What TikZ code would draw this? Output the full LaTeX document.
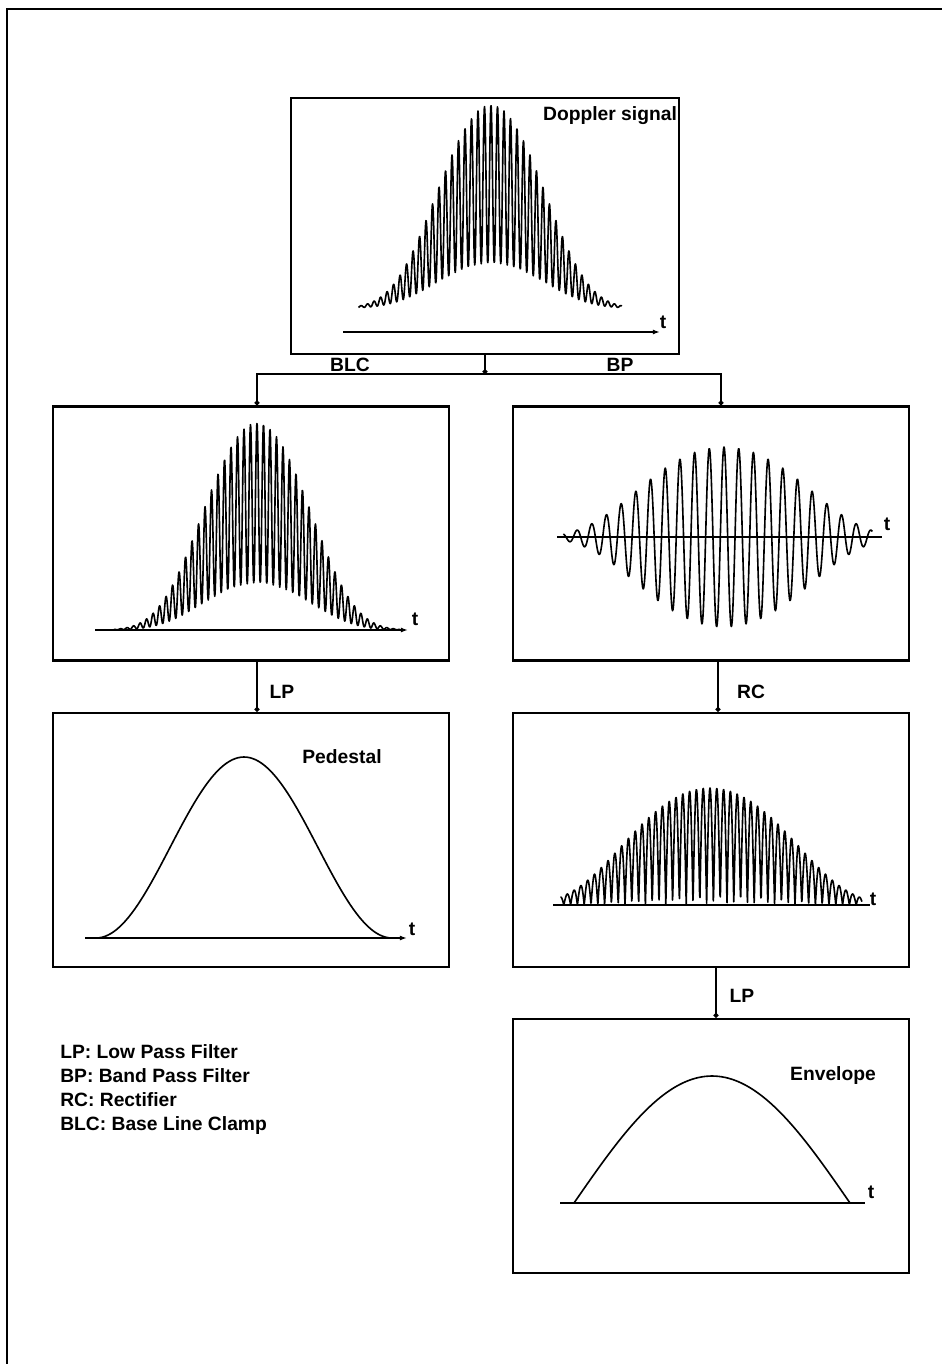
\documentclass[tikz,border=0pt]{standalone}
\usepackage{fontspec}
\setmainfont{Liberation Sans}
\usepackage{tikz}
\usetikzlibrary{shapes,arrows.meta,positioning,calc}

\begin{document}
\begin{tikzpicture}[x=0.025cm, y=-0.025cm,
    panel/.style={draw, line width=1.7pt, minimum width=9.9cm, minimum height=6.35cm, inner sep=0pt},
    link/.style={line width=1.1pt, -{Circle[length=3.5pt]}},
    signal/.style={line width=1.15pt, line join=round},
    axis/.style={line width=1.2pt},
    tip/.style={-{Latex[length=5pt,width=3.5pt]}},
    lbl/.style={font=\bfseries\fontsize{13.7}{16}\selectfont, inner sep=0pt, anchor=base}]
    \useasboundingbox (0,0) rectangle (942,1364);

    % Outer frame
    \draw[line width=1.5pt] (942,9) -- (7,9) -- (7,1364);

    % Panels
    \node[panel, minimum width=9.7cm, minimum height=6.4cm] (doppler) at (485,226) {};
    \node[panel] (blc) at (251,533.5) {};
    \node[panel] (bp) at (711,533.5) {};
    \node[panel] (pedestal) at (251,840) {};
    \node[panel] (rc) at (711,840) {};
    \node[panel] (envelope) at (711,1146) {};

    % Connectors
    \coordinate (split) at (485,374);
    \draw[link] (doppler.south) -- (split);
    \draw[link] (split) -| ([xshift=0.15cm]blc.north);
    \draw[link] (split) -| ([xshift=0.25cm]bp.north);
    \draw[link] ([xshift=0.15cm]blc.south) -- ([xshift=0.15cm]pedestal.north);
    \draw[link] ([xshift=0.175cm]bp.south) -- ([xshift=0.175cm]rc.north);
    \draw[link] ([xshift=0.125cm]rc.south) -- ([xshift=0.125cm]envelope.north);

    \node[lbl] (lblc) at (350,371) {BLC};
    \node[lbl] (lbp) at (620,371) {BP};
    \node[lbl] (llp) at (282,698) {LP};
    \node[lbl] (lrc) at (751,698) {RC};
    \node[lbl] (llp2) at (742,1002) {LP};

    % Doppler signal
    \draw[axis, tip] (343,332) -- (660,332);
    \draw[signal] plot[domain=-2.5:2.47, samples=801]
        ({491+53*\x}, {308-exp(-0.5*(\x)^2-0.04*(\x)^4)*(124+79*cos(\x*53/6.5*360))});
    \node[lbl] (tdop) at (663,328) {t};
    \node[lbl] (ndop) at (610,120) {Doppler signal};

    % After base line clamp
    \draw[axis, tip] (95,630) -- (408,630);
    \draw[signal] plot[domain=-2.7:2.7, samples=801]
        ({257+53*\x}, {630-exp(-0.5*(\x)^2-0.04*(\x)^4)*(127+80*cos(\x*53/6.5*360))});
    \node[lbl] (tblc) at (415,625) {t};

    % After band pass
    \draw[axis] (557,537) -- (882,537);
    \draw[signal] plot[domain=-1.89:1.75, samples=601]
        ({724+85*\x}, {537-90*exp(-0.5*(\x)^2-0.12*(\x)^4)*cos(\x*85/14.7*360)});
    \node[lbl] (tbp) at (887,530) {t};

    % Pedestal
    \draw[axis, tip] (85,938) -- (407,938);
    \draw[signal] plot[domain=-1:1, samples=101]
        ({244+148*\x}, {938-90.5*(1+cos(180*\x))});
    \node[lbl] (tped) at (412,935) {t};
    \node[lbl] (nped) at (342,763) {Pedestal};

    % Rectified
    \draw[axis] (553,905) -- (870,905);
    \draw[signal] plot[domain=-1.76:1.79, samples=901]
        ({710+85*\x}, {905-117*exp(-0.5*(\x)^2-0.12*(\x)^4)*abs(cos(\x*85/13.6*360))});
    \node[lbl] (trc) at (873,905) {t};

    % Envelope
    \draw[axis] (560,1203) -- (865,1203);
    \draw[signal] plot[domain=-1:1, samples=81]
        ({712+138*\x}, {1203-127*cos(90*\x)});
    \node[lbl] (tenv) at (871,1198) {t};
    \node[lbl] (nenv) at (833,1080) {Envelope};

    % Legend
    \node[lbl, anchor=base west] (leglp) at (60,1058) {LP:\ Low Pass Filter};
    \node[lbl, anchor=base west] (legbp) at (60,1082) {BP:\ Band Pass Filter};
    \node[lbl, anchor=base west] (legrc) at (60,1106) {RC:\ Rectifier};
    \node[lbl, anchor=base west] (legblc) at (60,1130) {BLC:\ Base Line Clamp};
\end{tikzpicture}
\end{document}
